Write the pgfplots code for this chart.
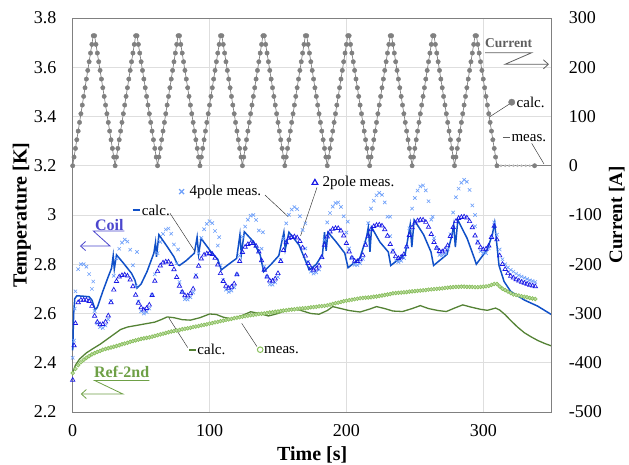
\documentclass[border=0pt]{standalone}
\usepackage{fontspec}
\setmainfont{Liberation Serif}
\usepackage{pgfplots}
\usepackage{pgfplotstable}
\pgfplotsset{compat=1.18}
\usetikzlibrary{arrows.meta}

\definecolor{curgray}{RGB}{128,128,128}
\definecolor{curtext}{RGB}{95,95,95}
\definecolor{coilcalc}{RGB}{16,80,200}
\definecolor{twopole}{RGB}{25,25,230}
\definecolor{fourpole}{RGB}{110,160,250}
\definecolor{coiltext}{RGB}{75,70,205}
\definecolor{refcalc}{RGB}{84,130,53}
\definecolor{refmeas}{RGB}{135,190,90}
\definecolor{reftext}{RGB}{110,160,70}
\definecolor{gridc}{RGB}{222,222,222}
\definecolor{framec}{RGB}{128,128,128}

\newcommand{\ann}{\fontsize{15}{16}\selectfont}

% current (calc.), A
\pgfplotstableread[row sep=\\]{
t I\\
0 0\\1 17.6\\2 35.2\\3 52.8\\4 70.4\\5 88\\6 105.6\\7 123.2\\8 140.8\\9 158.4\\10 176\\11 193.6\\12 211.2\\13 228.8\\14 246.4\\15 264\\16 264\\17 246.4\\18 228.8\\19 211.2\\20 193.6\\21 176\\22 158.4\\23 140.8\\24 123.2\\25 105.6\\26 88\\27 70.4\\28 52.8\\29 35.2\\30 17.6\\
31 0\\32 17.6\\33 35.2\\34 52.8\\35 70.4\\36 88\\37 105.6\\38 123.2\\39 140.8\\40 158.4\\41 176\\42 193.6\\43 211.2\\44 228.8\\45 246.4\\46 264\\47 264\\48 246.4\\49 228.8\\50 211.2\\51 193.6\\52 176\\53 158.4\\54 140.8\\55 123.2\\56 105.6\\57 88\\58 70.4\\59 52.8\\60 35.2\\61 17.6\\
62 0\\63 17.6\\64 35.2\\65 52.8\\66 70.4\\67 88\\68 105.6\\69 123.2\\70 140.8\\71 158.4\\72 176\\73 193.6\\74 211.2\\75 228.8\\76 246.4\\77 264\\78 264\\79 246.4\\80 228.8\\81 211.2\\82 193.6\\83 176\\84 158.4\\85 140.8\\86 123.2\\87 105.6\\88 88\\89 70.4\\90 52.8\\91 35.2\\92 17.6\\
93 0\\94 17.6\\95 35.2\\96 52.8\\97 70.4\\98 88\\99 105.6\\100 123.2\\101 140.8\\102 158.4\\103 176\\104 193.6\\105 211.2\\106 228.8\\107 246.4\\108 264\\109 264\\110 246.4\\111 228.8\\112 211.2\\113 193.6\\114 176\\115 158.4\\116 140.8\\117 123.2\\118 105.6\\119 88\\120 70.4\\121 52.8\\122 35.2\\123 17.6\\
124 0\\125 17.6\\126 35.2\\127 52.8\\128 70.4\\129 88\\130 105.6\\131 123.2\\132 140.8\\133 158.4\\134 176\\135 193.6\\136 211.2\\137 228.8\\138 246.4\\139 264\\140 264\\141 246.4\\142 228.8\\143 211.2\\144 193.6\\145 176\\146 158.4\\147 140.8\\148 123.2\\149 105.6\\150 88\\151 70.4\\152 52.8\\153 35.2\\154 17.6\\
155 0\\156 17.6\\157 35.2\\158 52.8\\159 70.4\\160 88\\161 105.6\\162 123.2\\163 140.8\\164 158.4\\165 176\\166 193.6\\167 211.2\\168 228.8\\169 246.4\\170 264\\171 264\\172 246.4\\173 228.8\\174 211.2\\175 193.6\\176 176\\177 158.4\\178 140.8\\179 123.2\\180 105.6\\181 88\\182 70.4\\183 52.8\\184 35.2\\185 17.6\\
186 0\\187 17.6\\188 35.2\\189 52.8\\190 70.4\\191 88\\192 105.6\\193 123.2\\194 140.8\\195 158.4\\196 176\\197 193.6\\198 211.2\\199 228.8\\200 246.4\\201 264\\202 264\\203 246.4\\204 228.8\\205 211.2\\206 193.6\\207 176\\208 158.4\\209 140.8\\210 123.2\\211 105.6\\212 88\\213 70.4\\214 52.8\\215 35.2\\216 17.6\\
217 0\\218 17.6\\219 35.2\\220 52.8\\221 70.4\\222 88\\223 105.6\\224 123.2\\225 140.8\\226 158.4\\227 176\\228 193.6\\229 211.2\\230 228.8\\231 246.4\\232 264\\233 264\\234 246.4\\235 228.8\\236 211.2\\237 193.6\\238 176\\239 158.4\\240 140.8\\241 123.2\\242 105.6\\243 88\\244 70.4\\245 52.8\\246 35.2\\247 17.6\\
248 0\\249 17.6\\250 35.2\\251 52.8\\252 70.4\\253 88\\254 105.6\\255 123.2\\256 140.8\\257 158.4\\258 176\\259 193.6\\260 211.2\\261 228.8\\262 246.4\\263 264\\264 264\\265 246.4\\266 228.8\\267 211.2\\268 193.6\\269 176\\270 158.4\\271 140.8\\272 123.2\\273 105.6\\274 88\\275 70.4\\276 52.8\\277 35.2\\278 17.6\\
279 0\\280 17.6\\281 35.2\\282 52.8\\283 70.4\\284 88\\285 105.6\\286 123.2\\287 140.8\\288 158.4\\289 176\\290 193.6\\291 211.2\\292 228.8\\293 246.4\\294 264\\295 264\\296 246.4\\297 228.8\\298 211.2\\299 193.6\\300 176\\301 158.4\\302 140.8\\303 123.2\\304 105.6\\305 88\\306 70.4\\307 52.8\\308 35.2\\309 17.6\\310 0\\
}\curtab

% coil, 2pole meas.
\pgfplotstableread[row sep=\\]{
t T\\
0 2.33\\1 2.47\\2 2.56\\4 2.645\\6 2.655\\8 2.655\\10 2.655\\12 2.65\\14 2.63\\16 2.59\\18 2.565\\20 2.555\\
22 2.556\\24 2.566\\26 2.591\\28 2.645\\30 2.696\\32 2.731\\34 2.749\\36 2.755\\38 2.757\\40 2.753\\42 2.737\\44 2.710\\46 2.675\\48 2.643\\50 2.624\\52 2.615\\
54 2.621\\56 2.635\\58 2.674\\60 2.732\\62 2.771\\64 2.794\\66 2.806\\68 2.81\\70 2.81\\72 2.80\\74 2.779\\76 2.747\\78 2.712\\80 2.687\\82 2.673\\
84 2.672\\86 2.681\\88 2.70\\90 2.749\\92 2.793\\94 2.822\\96 2.838\\98 2.843\\100 2.845\\102 2.841\\104 2.825\\106 2.798\\108 2.763\\110 2.731\\112 2.712\\114 2.703\\
116 2.708\\118 2.721\\120 2.758\\122 2.812\\124 2.849\\126 2.870\\128 2.881\\130 2.885\\132 2.885\\134 2.874\\136 2.851\\138 2.815\\140 2.777\\142 2.749\\144 2.733\\
146 2.732\\148 2.741\\150 2.763\\152 2.812\\154 2.857\\156 2.888\\158 2.905\\160 2.910\\162 2.912\\164 2.908\\166 2.893\\168 2.867\\170 2.834\\172 2.804\\174 2.785\\176 2.777\\
178 2.782\\180 2.794\\182 2.828\\184 2.878\\186 2.912\\188 2.932\\190 2.943\\192 2.946\\194 2.946\\196 2.936\\198 2.916\\200 2.885\\202 2.851\\204 2.826\\206 2.813\\
208 2.812\\210 2.819\\212 2.837\\214 2.878\\216 2.915\\218 2.941\\220 2.954\\222 2.959\\224 2.96\\226 2.956\\228 2.941\\230 2.915\\232 2.881\\234 2.851\\236 2.832\\238 2.824\\
240 2.829\\242 2.840\\244 2.871\\246 2.918\\248 2.949\\250 2.968\\252 2.977\\254 2.98\\256 2.98\\258 2.971\\260 2.951\\262 2.922\\264 2.889\\266 2.866\\268 2.853\\
270 2.851\\272 2.859\\274 2.876\\276 2.914\\278 2.95\\280 2.974\\282 2.987\\284 2.991\\286 2.993\\288 2.989\\290 2.974\\292 2.949\\294 2.916\\296 2.887\\298 2.868\\300 2.86\\
302 2.862\\304 2.875\\306 2.91\\308 2.955\\310 2.90\\312 2.835\\314 2.80\\316 2.78\\318 2.763\\320 2.752\\322 2.745\\324 2.738\\326 2.733\\328 2.728\\330 2.724\\332 2.72\\334 2.716\\336 2.713\\338 2.71\\
}\twotab

% coil, 4pole meas.
\pgfplotstableread[row sep=\\]{
t T\\
0 2.42\\1 2.49\\1.5 2.62\\2 2.69\\4 2.78\\6 2.80\\8 2.80\\10 2.79\\12 2.76\\14 2.70\\16 2.61\\18 2.56\\20 2.545\\
22 2.541\\24 2.551\\26 2.576\\28 2.652\\30 2.753\\32 2.824\\34 2.863\\36 2.888\\38 2.90\\40 2.892\\42 2.859\\44 2.796\\46 2.711\\48 2.649\\50 2.609\\52 2.60\\
54 2.606\\56 2.62\\58 2.674\\60 2.759\\62 2.845\\64 2.891\\66 2.923\\68 2.941\\70 2.945\\72 2.924\\74 2.88\\76 2.804\\78 2.728\\80 2.687\\82 2.658\\
84 2.657\\86 2.666\\88 2.685\\90 2.756\\92 2.845\\94 2.907\\96 2.942\\98 2.964\\100 2.975\\102 2.967\\104 2.935\\106 2.876\\108 2.796\\110 2.736\\112 2.697\\114 2.688\\
116 2.693\\118 2.706\\120 2.758\\122 2.835\\124 2.912\\126 2.953\\128 2.981\\130 2.997\\132 3.0\\134 2.98\\136 2.937\\138 2.863\\140 2.791\\142 2.749\\144 2.718\\
146 2.717\\148 2.726\\150 2.748\\152 2.818\\154 2.905\\156 2.966\\158 3.001\\160 3.022\\162 3.032\\164 3.024\\166 2.995\\168 2.939\\170 2.864\\172 2.809\\174 2.77\\176 2.762\\
178 2.767\\180 2.779\\182 2.828\\184 2.899\\186 2.97\\188 3.008\\190 3.034\\192 3.048\\194 3.051\\196 3.033\\198 2.995\\200 2.929\\202 2.864\\204 2.826\\206 2.798\\
208 2.797\\210 2.804\\212 2.822\\214 2.885\\216 2.967\\218 3.026\\220 3.058\\222 3.08\\224 3.09\\226 3.082\\228 3.051\\230 2.993\\232 2.914\\234 2.856\\236 2.817\\238 2.809\\
240 2.814\\242 2.825\\244 2.871\\246 2.946\\248 3.026\\250 3.069\\252 3.099\\254 3.116\\256 3.12\\258 3.10\\260 3.056\\262 2.981\\264 2.906\\266 2.866\\268 2.838\\
270 2.836\\272 2.844\\274 2.861\\276 2.922\\278 3.01\\280 3.072\\282 3.107\\284 3.131\\286 3.143\\288 3.135\\290 3.102\\292 3.039\\294 2.954\\296 2.893\\298 2.853\\300 2.845\\
302 2.845\\304 2.865\\306 2.91\\308 2.97\\310 2.92\\312 2.86\\314 2.82\\316 2.80\\318 2.787\\320 2.777\\322 2.77\\324 2.762\\326 2.755\\328 2.75\\330 2.745\\332 2.74\\334 2.735\\336 2.732\\338 2.728\\
15 2.73\\47 2.85\\77 2.86\\107 2.91\\139 2.93\\170 2.966\\201 2.973\\232 2.993\\263 2.993\\294 3.0\\
}\fourtab

% coil, calc.
\pgfplotstableread[row sep=\\]{
t T\\
0 2.45\\0.7 2.6\\1.5 2.66\\3 2.672\\8 2.67\\12 2.668\\14 2.655\\16.5 2.615\\18 2.625\\22 2.69\\26 2.75\\28.4 2.784\\29.6 2.835\\30.4 2.78\\32 2.838\\
37 2.805\\43 2.763\\45.5 2.735\\47 2.703\\50 2.72\\54.3 2.77\\59.3 2.845\\60.5 2.888\\61.2 2.83\\63 2.92\\69 2.872\\74 2.83\\76.5 2.8\\78 2.795\\
83 2.815\\88.9 2.845\\90.9 2.91\\92 2.84\\93.8 2.905\\101 2.851\\106 2.82\\108.6 2.777\\114 2.80\\119.8 2.824\\122.2 2.92\\123.2 2.84\\125.4 2.932\\
132 2.892\\137 2.838\\139.5 2.77\\145 2.80\\150.6 2.835\\154.3 2.93\\155.3 2.86\\158 2.93\\165.4 2.878\\170.4 2.81\\172.8 2.777\\178 2.80\\182.5 2.84\\
184 2.93\\185.2 2.855\\186.5 2.93\\192.6 2.89\\198.8 2.845\\201.2 2.786\\209.8 2.824\\214.7 2.91\\216 2.95\\217.2 2.85\\218.4 2.95\\224.5 2.89\\230.6 2.85\\
232.4 2.795\\242.9 2.84\\245.4 2.92\\246.6 2.96\\247.8 2.87\\249.5 2.98\\256.4 2.92\\261.8 2.85\\263.7 2.795\\273.5 2.84\\277.2 2.92\\278.4 2.96\\279.6 2.87\\
281.4 2.98\\288.2 2.905\\293.1 2.83\\294.9 2.80\\302.9 2.86\\306.6 2.92\\308.3 2.968\\311.5 2.795\\315.2 2.73\\320 2.69\\329.9 2.655\\339.7 2.63\\350 2.595\\
}\coiltab

% Ref-2nd, meas.
\pgfplotstableread[row sep=\\]{
t T\\
0 2.358\\2 2.375\\4 2.39\\6 2.402\\8 2.412\\10 2.42\\12 2.427\\14 2.434\\16 2.439\\18 2.444\\20 2.448\\22 2.453\\24 2.456\\26 2.459\\28 2.462\\30 2.465\\
32 2.468\\34 2.471\\36 2.475\\38 2.478\\40 2.481\\42 2.485\\44 2.488\\46 2.491\\48 2.494\\50 2.497\\52 2.499\\54 2.501\\56 2.503\\58 2.506\\60 2.509\\
62 2.512\\64 2.515\\66 2.518\\68 2.521\\70 2.524\\72 2.527\\74 2.529\\76 2.531\\78 2.533\\80 2.536\\82 2.538\\84 2.54\\86 2.542\\88 2.545\\90 2.547\\
92 2.549\\94 2.552\\96 2.554\\98 2.556\\100 2.559\\102 2.561\\104 2.564\\106 2.566\\108 2.569\\110 2.571\\112 2.574\\114 2.576\\116 2.578\\118 2.581\\120 2.583\\
122 2.585\\124 2.587\\126 2.589\\128 2.591\\130 2.593\\132 2.594\\134 2.596\\136 2.598\\138 2.599\\140 2.6\\142 2.602\\144 2.604\\146 2.605\\148 2.607\\150 2.608\\
152 2.61\\154 2.612\\156 2.613\\158 2.615\\160 2.616\\162 2.617\\164 2.619\\166 2.62\\168 2.621\\170 2.622\\172 2.623\\174 2.625\\176 2.626\\178 2.627\\180 2.629\\
182 2.63\\184 2.631\\186 2.633\\188 2.636\\190 2.639\\192 2.642\\194 2.644\\196 2.647\\198 2.65\\200 2.652\\202 2.654\\204 2.656\\206 2.658\\208 2.66\\210 2.662\\
212 2.663\\214 2.664\\216 2.665\\218 2.666\\220 2.668\\222 2.669\\224 2.671\\226 2.673\\228 2.675\\230 2.677\\232 2.679\\234 2.682\\236 2.683\\238 2.684\\240 2.685\\
242 2.686\\244 2.687\\246 2.689\\248 2.69\\250 2.691\\252 2.692\\254 2.693\\256 2.694\\258 2.695\\260 2.697\\262 2.698\\264 2.699\\266 2.7\\268 2.701\\270 2.702\\
272 2.704\\274 2.705\\276 2.706\\278 2.707\\280 2.708\\282 2.708\\284 2.709\\286 2.709\\288 2.708\\290 2.708\\292 2.708\\294 2.707\\296 2.707\\298 2.708\\300 2.709\\
302 2.71\\304 2.712\\306 2.716\\308 2.72\\310 2.72\\312 2.71\\314 2.701\\316 2.695\\318 2.689\\320 2.683\\322 2.677\\324 2.675\\326 2.673\\328 2.67\\330 2.668\\
332 2.666\\334 2.663\\336 2.661\\338 2.659\\
}\refmeastab

% Ref-2nd, calc.
\pgfplotstableread[row sep=\\]{
t T\\
0 2.36\\2 2.39\\5 2.415\\10 2.44\\15 2.458\\20 2.475\\25 2.495\\30 2.515\\35 2.535\\40 2.545\\45 2.55\\50 2.555\\55 2.56\\60 2.565\\65 2.576\\69 2.586\\
74 2.583\\80 2.575\\86 2.573\\93 2.583\\100 2.598\\105 2.596\\110 2.585\\116 2.578\\124 2.592\\130 2.607\\136 2.601\\143 2.59\\150 2.6\\156 2.614\\161 2.62\\
167 2.612\\174 2.6\\180 2.597\\186 2.612\\190 2.628\\196 2.62\\202 2.612\\210 2.606\\217 2.618\\222 2.628\\228 2.62\\234 2.61\\241 2.608\\248 2.62\\254 2.632\\
260 2.62\\267 2.612\\273 2.608\\279 2.622\\285 2.635\\291 2.626\\298 2.617\\303 2.613\\309 2.622\\312 2.614\\316 2.595\\320 2.572\\325 2.545\\330 2.522\\
335 2.505\\340 2.49\\345 2.478\\350 2.468\\
}\refcalctab

\begin{document}
\begin{tikzpicture}
\path[use as bounding box] (-72.7pt,-53pt) rectangle (556.3pt,412pt);
\begin{axis}[
  width=479pt, height=394pt, scale only axis,
  at={(0pt,0pt)}, anchor=south west,
  xmin=0, xmax=350, ymin=2.2, ymax=3.8,
  xtick={0,100,200,300}, xticklabels={0,100,200,300},
  ytick={2.2,2.4,2.6,2.8,3,3.2,3.4,3.6,3.8},
  yticklabels={2.2,2.4,2.6,2.8,3,3.2,3.4,3.6,3.8},
  major tick length=0pt,
  grid=major, major grid style={draw=gridc, line width=0.9pt},
  axis line style={draw=framec, line width=0.9pt},
  ticklabel style={font=\fontsize{18}{20}\selectfont, inner sep=0pt},
  xticklabel style={anchor=north, yshift=-12pt},
  yticklabel style={anchor=east, xshift=-16pt},
  xlabel={Time [s]}, ylabel={Temperature [K]},
  label style={font=\fontsize{20}{22}\selectfont\bfseries},
  xlabel style={at={(axis description cs:0.5,-0.109)}, anchor=center},
  ylabel style={at={(axis description cs:-0.106,0.5)}, anchor=center},
  clip=false,
]
\addplot[only marks, mark=x, mark size=2.4pt, color=fourpole, line width=0.65pt] table[x=t,y=T] {\fourtab};
\addplot[only marks, mark=triangle, mark size=2.5pt, color=twopole, line width=0.7pt] table[x=t,y=T] {\twotab};
\addplot[coilcalc, line width=1.5pt, no marks] table[x=t,y=T] {\coiltab};
\addplot[only marks, mark=*, mark size=1.9pt, draw=refmeas, fill=refmeas!55!white, line width=0.6pt] table[x=t,y=T] {\refmeastab};
\addplot[refcalc, line width=1.3pt, no marks] table[x=t,y=T] {\refcalctab};

% --- Current annotation
\node[font=\fontsize{13.5}{14}\selectfont\bfseries, text=curtext, inner sep=0pt] at (axis cs:318.5,3.697) {Current};
\draw[curtext, line width=0.8pt, -{Straight Barb[length=5pt,width=9pt]}] (axis cs:301.3,3.659) -- (axis cs:335.4,3.659) -- (axis cs:315.9,3.612) -- (axis cs:348,3.612);
\addplot[only marks, mark=*, mark size=3.2pt, color=curgray] coordinates {(320.8,3.458)};
\node[anchor=west, font=\ann, inner sep=0pt] at (axis cs:324.3,3.458) {calc.};
\draw[black!80, line width=0.45pt] (axis cs:319.2,3.451) -- (axis cs:304.2,3.397);
\addplot[curtext, line width=1pt] coordinates {(314.4,3.314) (319.5,3.314)};
\node[anchor=west, font=\ann, inner sep=0pt] at (axis cs:320.5,3.314) {meas.};
\draw[black!80, line width=0.45pt] (axis cs:335.4,3.291) -- (axis cs:344.4,3.207);

% --- Coil annotation
\node[font=\fontsize{16}{17}\selectfont\bfseries, text=coiltext, inner sep=0pt] at (axis cs:26.7,2.959) {Coil};
\draw[coiltext, line width=0.8pt, -{Straight Barb[length=5pt,width=9pt]}] (axis cs:37.7,2.935) -- (axis cs:15.1,2.935) -- (axis cs:27.3,2.874) -- (axis cs:5.3,2.874);
\addplot[coilcalc, line width=2pt] coordinates {(43.8,3.02) (49.2,3.02)};
\node[anchor=west, font=\ann, inner sep=0pt] at (axis cs:50.4,3.02) {calc.};
\draw[black!80, line width=0.45pt] (axis cs:71.1,3.007) -- (axis cs:89.4,2.851);
\addplot[only marks, mark=x, mark size=3.5pt, line width=1.2pt, color=fourpole] coordinates {(79.6,3.095)};
\node[anchor=west, font=\ann, inner sep=0pt] at (axis cs:85.2,3.095) {4pole meas.};
\draw[black!80, line width=0.45pt] (axis cs:140.5,3.081) -- (axis cs:157.5,2.993);
\addplot[only marks, mark=triangle, mark size=3.3pt, line width=1.2pt, color=twopole] coordinates {(177,3.131)};
\node[anchor=west, font=\ann, inner sep=0pt] at (axis cs:182.5,3.131) {2pole meas.};
\draw[black!80, line width=0.45pt] (axis cs:178.5,3.112) -- (axis cs:166.5,2.915);

% --- Ref-2nd annotation
\node[font=\fontsize{16}{17}\selectfont\bfseries, text=reftext, inner sep=0pt] at (axis cs:35.8,2.362) {Ref-2nd};
\draw[reftext, line width=0.8pt, -{Straight Barb[length=5pt,width=9pt]}] (axis cs:56,2.328) -- (axis cs:16,2.328) -- (axis cs:36.7,2.273) -- (axis cs:5.9,2.273);
\addplot[refcalc, line width=2pt] coordinates {(85,2.453) (90,2.453)};
\node[anchor=west, font=\ann, inner sep=0pt] at (axis cs:91,2.453) {calc.};
\draw[black!80, line width=0.45pt] (axis cs:84,2.462) -- (axis cs:70.4,2.581);
\addplot[only marks, mark=o, mark size=2.8pt, line width=1pt, color=refmeas] coordinates {(137,2.453)};
\node[anchor=west, font=\ann, inner sep=0pt] at (axis cs:139.8,2.453) {meas.};
\draw[black!80, line width=0.45pt] (axis cs:134.6,2.466) -- (axis cs:123.5,2.56);
\end{axis}

\begin{axis}[
  width=479pt, height=394pt, scale only axis,
  at={(0pt,0pt)}, anchor=south west,
  xmin=0, xmax=350, ymin=-500, ymax=300,
  axis x line=none, axis y line*=right,
  ytick={-500,-400,-300,-200,-100,0,100,200,300},
  yticklabels={-500,-400,-300,-200,-100,0,100,200,300},
  major tick length=0pt,
  axis line style={draw=framec, line width=0.9pt},
  ticklabel style={font=\fontsize{18}{20}\selectfont, inner sep=0pt},
  yticklabel style={anchor=west, xshift=17pt},
  ylabel={Current [A]},
  label style={font=\fontsize{19}{21}\selectfont\bfseries},
  ylabel style={at={(axis description cs:1.136,0.5)}, anchor=center, rotate=0},
  clip=false,
]
\addplot[curgray, line width=0.7pt, no marks] table[x=t,y=I] {\curtab};
\addplot[curgray, line width=0.7pt, no marks] coordinates {(310,0) (350,0)};
\addplot[only marks, mark=*, mark size=2.2pt, color=curgray] table[x=t,y=I] {\curtab};
\addplot[only marks, mark=*, mark size=1.1pt, color=curgray!55] coordinates {(313,0) (316,0) (319,0) (322,0) (325,0) (328,0) (331,0) (334,0)};
\addplot[only marks, mark=*, mark size=2.2pt, color=curgray] coordinates {(337.5,0)};
\end{axis}
\end{tikzpicture}
\end{document}
